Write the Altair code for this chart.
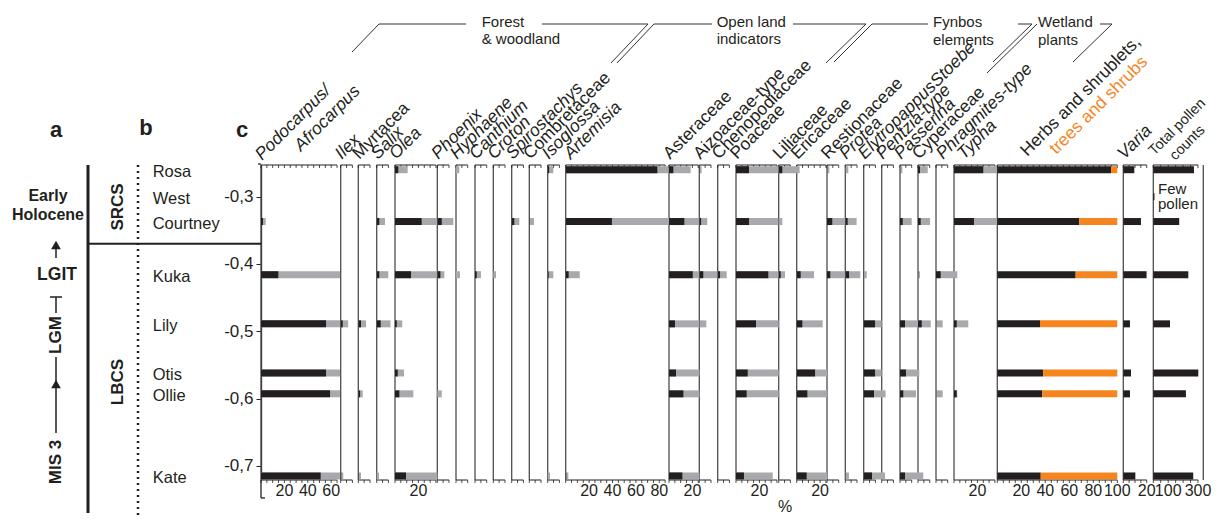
import altair as alt
import pandas as pd

# ---------------- data ----------------
samples = ["Rosa", "West", "Courtney", "Kuka", "Lily", "Otis", "Ollie", "Kate"]
depths = [-0.260, -0.300, -0.337, -0.416, -0.489, -0.562, -0.593, -0.715]

# black = percentage, grey = exaggerated curve (per sample, order as `samples`)
black = {
    "Podocarpus":     [0, 0, 1.7, 14.8, 55.6, 55.6, 59.0, 51.0],
    "Ilex":           [0, 0, 0, 0, 1.7, 0, 0, 0.5],
    "Myrtacea":       [0, 0, 0, 0, 2.3, 0, 1.5, 0.5],
    "Salix":          [0, 0, 2.2, 2.2, 3.4, 0, 0, 0],
    "Olea":           [2.8, 0, 22.8, 13.7, 1.5, 2.3, 3.7, 9.4],
    "Phoenix":        [0, 0, 3.8, 2.6, 0, 0, 0, 0],
    "Hyphaene":       [0, 0, 0, 0, 0, 0, 0, 0],
    "Canthium":       [0, 0, 0, 1.5, 0, 0, 0, 0],
    "Croton":         [0, 0, 0, 0, 0, 0, 0, 0],
    "Spirostachys":   [0, 0, 2.2, 0, 0, 0, 0, 0],
    "Combretaceae":   [0, 0, 0.5, 0, 0, 0, 0, 0],
    "Isoglossa":      [1.2, 0, 0, 0.8, 0, 0, 0, 0],
    "Artemisia":      [78.3, 0, 39.5, 2.5, 0, 0, 0, 0.5],
    "Asteraceae":     [3.7, 0, 13.1, 20.3, 5.1, 6.0, 12.3, 11.4],
    "Aizoaceae":      [0.5, 0, 1.5, 3.4, 0.3, 0, 0, 0],
    "Chenopodiaceae": [0, 0, 0, 2.0, 0, 0, 0, 0],
    "Poaceae":        [11.1, 0, 11.1, 27.6, 17.1, 10.0, 9.1, 6.8],
    "Liliaceae":      [3.1, 0, 0.3, 1.7, 0, 0, 0, 0],
    "Ericaceae":      [0, 0, 0, 3.4, 4.8, 15.7, 9.1, 8.5],
    "Restionaceae":   [0.3, 0, 4.5, 2.8, 0, 0, 0, 0],
    "Protea":         [0.3, 0, 2.0, 3.2, 0, 0, 0, 0.3],
    "Elytropappus":   [0, 0, 0, 0.3, 9.7, 9.7, 8.8, 7.1],
    "Pentzia":        [0, 0, 0, 0, 0, 0, 0, 0],
    "Passerina":      [0.3, 0, 2.3, 0, 4.3, 5.1, 2.8, 4.3],
    "Cyperaceae":     [1.7, 0, 2.3, 0.3, 3.2, 0, 0, 0],
    "Phragmites":     [0, 0, 0, 4.0, 0.3, 0, 0.3, 0],
    "Typha":          [25.0, 0, 17.1, 0, 2.3, 0, 2.3, 0],
}
grey = {
    "Podocarpus":     [0, 0, 4.0, 67.5, 67.5, 67.5, 67.5, 67.5],
    "Ilex":           [0, 0, 0, 0, 6.4, 0, 0, 2.2],
    "Myrtacea":       [0, 0, 0, 0, 6.6, 0, 3.8, 2.3],
    "Salix":          [0, 0, 7.1, 9.9, 11.8, 0, 0, 2.0],
    "Olea":           [10.8, 0, 36.2, 36.2, 6.2, 7.7, 15.7, 36.2],
    "Phoenix":        [0, 0, 13.7, 6.0, 0, 0, 3.8, 0],
    "Hyphaene":       [2.8, 0, 0, 3.4, 0, 0, 0, 0],
    "Canthium":       [0, 0, 0, 5.1, 0, 0, 0, 0],
    "Croton":         [0, 0, 0, 2.3, 0, 0, 0, 0],
    "Spirostachys":   [0, 0, 6.5, 0, 0, 0, 0, 0],
    "Combretaceae":   [0, 0, 4.0, 0, 0, 0, 0, 0],
    "Isoglossa":      [4.8, 0, 0, 4.8, 0, 0, 0, 2.0],
    "Artemisia":      [87.7, 0, 88.3, 12.0, 0, 0, 0, 2.3],
    "Asteraceae":     [18.5, 0, 26.0, 26.0, 26.0, 26.0, 26.0, 26.0],
    "Aizoaceae":      [2.0, 0, 6.8, 15.7, 6.0, 0, 0, 0],
    "Chenopodiaceae": [0, 0, 0, 7.7, 0, 0, 0, 0],
    "Poaceae":        [36.5, 0, 36.5, 36.5, 36.5, 36.5, 36.5, 31.4],
    "Liliaceae":      [17.9, 0, 3.1, 5.4, 0, 0, 0, 0],
    "Ericaceae":      [0, 0, 0, 14.8, 22.2, 25.9, 25.9, 25.9],
    "Restionaceae":   [2.0, 0, 15.6, 15.6, 0, 0, 0, 0],
    "Protea":         [2.6, 0, 9.7, 12.8, 0, 0, 0, 3.1],
    "Elytropappus":   [0, 0, 0, 2.6, 15.4, 15.4, 18.7, 18.3],
    "Pentzia":        [0, 0, 0, 0, 0, 0, 0, 0],
    "Passerina":      [2.0, 0, 10.0, 0, 15.7, 16.5, 13.7, 19.9],
    "Cyperaceae":     [8.3, 0, 10.3, 1.7, 10.9, 0, 0, 0],
    "Phragmites":     [0, 0, 0, 18.2, 5.7, 0, 5.7, 0],
    "Typha":          [36.8, 0, 36.8, 0, 12.2, 0, 2.8, 0],
}
herbs_shrublets = [94.8, 0, 68.3, 65.3, 35.6, 38.3, 37.5, 36.2]
trees_shrubs = [5.2, 0, 31.7, 34.7, 64.4, 61.7, 62.5, 63.8]
varia = [9.4, 0, 15.1, 19.9, 5.7, 6.6, 5.7, 10.3]
pollen_counts = [273, 8, 174, 235, 112, 302, 219, 268]

# taxon labels: (panel key, text, italic)
taxon_labels = [
    ("Ilex", "Ilex", True), ("Myrtacea", "Myrtacea", False), ("Salix", "Salix", True),
    ("Olea", "Olea", True), ("Phoenix", "Phoenix", True), ("Hyphaene", "Hyphaene", True),
    ("Canthium", "Canthium", True), ("Croton", "Croton", True),
    ("Spirostachys", "Spirostachys", True), ("Combretaceae", "Combretaceae", False),
    ("Isoglossa", "Isoglossa", True), ("Artemisia", "Artemisia", True),
    ("Asteraceae", "Asteraceae", False), ("Aizoaceae", "Aizoaceae-type", False),
    ("Chenopodiaceae", "Chenopodiaceae", False), ("Poaceae", "Poaceae", False),
    ("Liliaceae", "Liliaceae", False), ("Ericaceae", "Ericaceae", False),
    ("Restionaceae", "Restionaceae", False), ("Protea", "Protea", True),
    ("Elytropappus", "ElytropappusStoebe", True), ("Pentzia", "Pentzia-type", True),
    ("Passerina", "Passerina", True), ("Cyperaceae", "Cyperaceae", False),
    ("Phragmites", "Phragmites-type", True), ("Typha", "Typha", True),
    ("Varia", "Varia", True),
]

# ---------------- layout (pixels of the plot area) ----------------
PCT = 1.17  # px per percent
# key, panel width px, px per unit, axis max, tick step, labelled ticks
layout = [
    ("Podocarpus", 79.7, PCT, 65, 5, [20, 40, 60]),
    ("Ilex", 17.6, PCT, 10, 5, []),
    ("Myrtacea", 18.4, PCT, 10, 5, []),
    ("Salix", 18.3, PCT, 10, 5, []),
    ("Olea", 42.3, PCT, 35, 5, [20]),
    ("Phoenix", 18.7, PCT, 10, 5, []),
    ("Hyphaene", 19.0, PCT, 10, 5, []),
    ("Canthium", 18.3, PCT, 10, 5, []),
    ("Croton", 18.4, PCT, 10, 5, []),
    ("Spirostachys", 17.6, PCT, 10, 5, []),
    ("Combretaceae", 18.4, PCT, 10, 5, []),
    ("Isoglossa", 18.0, PCT, 10, 5, []),
    ("Artemisia", 103.3, PCT, 85, 5, [20, 40, 60, 80]),
    ("Asteraceae", 30.3, PCT, 25, 5, [20]),
    ("Aizoaceae", 18.4, PCT, 10, 5, []),
    ("Chenopodiaceae", 18.3, PCT, 10, 5, []),
    ("Poaceae", 42.7, PCT, 35, 5, [20]),
    ("Liliaceae", 18.0, PCT, 10, 5, []),
    ("Ericaceae", 30.3, PCT, 25, 5, [20]),
    ("Restionaceae", 18.3, PCT, 10, 5, []),
    ("Protea", 18.4, PCT, 10, 5, []),
    ("Elytropappus", 18.0, PCT, 10, 5, []),
    ("Pentzia", 18.3, PCT, 10, 5, []),
    ("Passerina", 18.0, PCT, 10, 5, []),
    ("Cyperaceae", 18.0, PCT, 10, 5, []),
    ("Phragmites", 18.0, PCT, 10, 5, []),
    ("Typha", 43.3, PCT, 35, 5, [20]),
    ("Herbs", 126.0, 1.2, 100, 5, [20, 40, 60, 80, 100]),
    ("Varia", 30.0, PCT, 20, 5, [20]),
    ("Counts", 50.0, 0.149, 300, 50, [100, 300]),
]
label_dx = {"Artemisia": 4, "Phragmites": 6, "Typha": 9}

W, H = 942, 315
FONT = "Liberation Sans"
INK = "#231f20"
GREYC = "#a7a9ac"
ORANGE = "#f5861f"
LINEC = "#4d4d4d"
LABEL_FS = 17.5

lefts, acc = {}, 0.0
for p in layout:
    lefts[p[0]] = acc
    acc += p[1]
right_end = acc

# ---------------- build tables ----------------
bars = []
for key, w, k, amax, step, labs in layout:
    left = lefts[key]
    if key in black:
        for s, d, b, g in zip(samples, depths, black[key], grey[key]):
            if g > 0:
                bars.append(dict(sample=s, depth=d, x0=left, x1=left + g * k, kind="grey"))
            if b > 0:
                bars.append(dict(sample=s, depth=d, x0=left, x1=left + b * k, kind="black"))
    elif key == "Herbs":
        for s, d, h, t in zip(samples, depths, herbs_shrublets, trees_shrubs):
            if h > 0:
                bars.append(dict(sample=s, depth=d, x0=left, x1=left + h * k, kind="black"))
            if t > 0:
                bars.append(dict(sample=s, depth=d, x0=left + h * k, x1=left + (h + t) * k, kind="orange"))
    elif key == "Varia":
        for s, d, v in zip(samples, depths, varia):
            if v > 0:
                bars.append(dict(sample=s, depth=d, x0=left, x1=left + v * k, kind="black"))
    elif key == "Counts":
        for s, d, v in zip(samples, depths, pollen_counts):
            if v > 0:
                bars.append(dict(sample=s, depth=d, x0=left, x1=left + v * k, kind="black"))
bars_df = pd.DataFrame(bars)

panel_lines = pd.DataFrame({"x": [lefts[p[0]] for p in layout] + [right_end]})
axis_lines = pd.DataFrame([dict(x0=lefts[p[0]], x1=lefts[p[0]] + p[3] * p[2]) for p in layout])
ticks = []
tick_labels = []
for key, w, k, amax, step, labs in layout:
    v = 0
    while v <= amax + 1e-9:
        ticks.append(dict(x=lefts[key] + v * k))
        v += step
    for lv in labs:
        tick_labels.append(dict(x=lefts[key] + lv * k, t=str(lv)))
ticks_df = pd.DataFrame(ticks)
tick_labels_df = pd.DataFrame(tick_labels)

lab_rows = []
for key, text, it in taxon_labels:
    lab_rows.append(dict(x=lefts[key] + 1 + label_dx.get(key, 0), y=-5, t=text, it=it))
lab_rows += [
    dict(x=1, y=-4, t="Podocarpus/", it=True),
    dict(x=40, y=-13, t="Afrocarpus", it=True),
    dict(x=lefts["Herbs"] + 30, y=-8, t="Herbs and shrublets,", it=False),
]
labels_df = pd.DataFrame(lab_rows)
orange_label_df = pd.DataFrame([dict(x=lefts["Herbs"] + 59, y=-10, t="trees and shrubs")])
counts_label_df = pd.DataFrame([
    dict(x=lefts["Counts"] + 1, y=-9, t="Total pollen"),
    dict(x=lefts["Counts"] + 22, y=-4, t="counts"),
])

xscale = alt.Scale(domain=[0, W], nice=False, zero=False)
yscale = alt.Scale(domain=[-0.721, -0.253], nice=False, zero=False)
yaxis = alt.Axis(values=[-0.3, -0.4, -0.5, -0.6, -0.7], title=None, grid=False,
                 labelExpr="'-0,' + round(-datum.value*10)", labelFont=FONT,
                 labelFontSize=17, labelColor=INK, domainColor=INK, domainWidth=1.3,
                 tickColor=INK, tickSize=5, labelPadding=3)

X = lambda f: alt.X(f, scale=xscale, axis=None)
PY = lambda f: alt.Y(f, scale=None, axis=None)

layers = []

# panel separators
layers.append(alt.Chart(panel_lines).mark_rule(color=LINEC, strokeWidth=1.3).encode(
    x=X("x:Q"), y=alt.value(0), y2=alt.value(H)))
# top and bottom axes of each panel
layers.append(alt.Chart(axis_lines).mark_rule(color=INK, strokeWidth=1).encode(
    x=X("x0:Q"), x2="x1:Q", y=alt.value(0)))
layers.append(alt.Chart(axis_lines).mark_rule(color=INK, strokeWidth=1).encode(
    x=X("x0:Q"), x2="x1:Q", y=alt.value(H)))
layers.append(alt.Chart(ticks_df).mark_rule(color=INK, strokeWidth=0.8).encode(
    x=X("x:Q"), y=alt.value(0), y2=alt.value(3)))
layers.append(alt.Chart(ticks_df).mark_rule(color=INK, strokeWidth=0.8).encode(
    x=X("x:Q"), y=alt.value(H), y2=alt.value(H + 3)))

# bars
for kind, col in [("grey", GREYC), ("black", INK), ("orange", ORANGE)]:
    layers.append(alt.Chart(bars_df[bars_df.kind == kind]).mark_rule(
        color=col, strokeWidth=7).encode(
        x=X("x0:Q"), x2="x1:Q",
        y=alt.Y("depth:Q", scale=yscale, axis=yaxis)))

# sample names
samp_df = pd.DataFrame({"sample": samples, "depth": depths, "x": [-108.3] * len(samples)})
layers.append(alt.Chart(samp_df).mark_text(align="left", baseline="middle", dy=2,
                                           font=FONT, fontSize=16.5, color=INK).encode(
    x=X("x:Q"), y=alt.Y("depth:Q", scale=yscale, axis=yaxis), text="sample:N"))

# bottom tick labels
layers.append(alt.Chart(tick_labels_df).mark_text(align="center", baseline="middle",
                                                  font=FONT, fontSize=16, color=INK).encode(
    x=X("x:Q"), y=alt.value(H + 11), text="t:N"))

# rotated taxon labels
for it in (True, False):
    layers.append(alt.Chart(labels_df[labels_df.it == it]).mark_text(
        align="left", baseline="alphabetic", angle=315, font=FONT, fontSize=LABEL_FS,
        fontStyle="italic" if it else "normal", color=INK).encode(
        x=X("x:Q"), y=PY("y:Q"), text="t:N"))
layers.append(alt.Chart(orange_label_df).mark_text(
    align="left", baseline="alphabetic", angle=315, font=FONT, fontSize=LABEL_FS,
    color=ORANGE).encode(x=X("x:Q"), y=PY("y:Q"), text="t:N"))
layers.append(alt.Chart(counts_label_df).mark_text(
    align="left", baseline="alphabetic", angle=315, font=FONT, fontSize=14.5,
    color=INK).encode(x=X("x:Q"), y=PY("y:Q"), text="t:N"))

# group headings (page px -> plot px: -261, -165)
ox, oy = 261, 165
groups_df = pd.DataFrame([
    dict(x=481.7 - ox, y=22 - oy, t="Forest"), dict(x=481.7 - ox, y=39 - oy, t="& woodland"),
    dict(x=716.7 - ox, y=22 - oy, t="Open land"), dict(x=716.7 - ox, y=39 - oy, t="indicators"),
    dict(x=933 - ox, y=22 - oy, t="Fynbos"), dict(x=933 - ox, y=40 - oy, t="elements"),
    dict(x=1038 - ox, y=22 - oy, t="Wetland"), dict(x=1038 - ox, y=40 - oy, t="plants"),
    dict(x=1158 - ox, y=189 - oy, t="Few"), dict(x=1158 - ox, y=204 - oy, t="pollen"),
])
layers.append(alt.Chart(groups_df).mark_text(align="left", baseline="middle", font=FONT,
                                             fontSize=15, color=INK).encode(
    x=X("x:Q"), y=PY("y:Q"), text="t:N"))

segs = [
    (352, 52, 379, 24), (379, 24, 466, 24), (542, 24, 648, 24), (648, 24, 611, 63),
    (617, 63, 654, 24), (654, 24, 712, 24), (793, 24, 866, 24), (866, 24, 826, 63),
    (834, 62, 872, 24), (872, 24, 928, 24),
    (1018, 24, 1032, 24), (1032, 24, 993, 62), (987, 73, 1037, 24),
    (1100, 24, 1112, 24), (1112, 24, 1073, 62),
]
segs_df = pd.DataFrame([dict(x=a - ox, y=b - oy, x2=c - ox, y2=d - oy) for a, b, c, d in segs])
layers.append(alt.Chart(segs_df).mark_rule(color="#333333", strokeWidth=1).encode(
    x=X("x:Q"), y=PY("y:Q"), x2="x2:Q", y2="y2:Q"))

# left-hand stratigraphy
left_lines = pd.DataFrame([
    dict(x=88 - ox, y=165 - oy, x2=88 - ox, y2=513 - oy, w=3),
    dict(x=56 - ox, y=244 - oy, x2=56 - ox, y2=258 - oy, w=1.5),
    dict(x=50 - ox, y=297 - oy, x2=62 - ox, y2=297 - oy, w=1.5),
    dict(x=56 - ox, y=297 - oy, x2=56 - ox, y2=313 - oy, w=1.5),
    dict(x=56 - ox, y=357 - oy, x2=56 - ox, y2=433 - oy, w=1.5),
    dict(x=0, y=H, x2=0, y2=333, w=1.3),
    dict(x=0, y=333, x2=4, y2=333, w=1.3),
    dict(x=-3, y=-1, x2=0, y2=-1, w=1.3),
])
layers.append(alt.Chart(left_lines).mark_rule(color=INK).encode(
    x=X("x:Q"), y=PY("y:Q"), x2="x2:Q", y2="y2:Q",
    strokeWidth=alt.StrokeWidth("w:Q", scale=None)))
bound_df = pd.DataFrame([dict(x=88 - ox, x2=0, depth=-0.370)])
layers.append(alt.Chart(bound_df).mark_rule(color=INK, strokeWidth=2).encode(
    x=X("x:Q"), x2="x2:Q", y=alt.Y("depth:Q", scale=yscale, axis=yaxis)))
dot_df = pd.DataFrame([dict(x=138 - ox, y=165 - oy, y2=520 - oy)])
layers.append(alt.Chart(dot_df).mark_rule(color=INK, strokeWidth=2.5, strokeDash=[2, 4]).encode(
    x=X("x:Q"), y=PY("y:Q"), y2="y2:Q"))
arrows_df = pd.DataFrame([dict(x=56 - ox, y=245 - oy), dict(x=56 - ox, y=384 - oy)])
layers.append(alt.Chart(arrows_df).mark_point(shape="triangle-up", filled=True, size=95,
                                              color=INK, opacity=1).encode(
    x=X("x:Q"), y=PY("y:Q")))

bold_df = pd.DataFrame([
    dict(x=56 - ox, y=130 - oy, t="a", s=22), dict(x=146 - ox, y=128 - oy, t="b", s=22),
    dict(x=242 - ox, y=130 - oy, t="c", s=22),
    dict(x=48 - ox, y=196 - oy, t="Early", s=16), dict(x=48 - ox, y=215 - oy, t="Holocene", s=16),
    dict(x=57 - ox, y=275 - oy, t="LGIT", s=17.5),
])
layers.append(alt.Chart(bold_df).mark_text(align="center", baseline="middle", font=FONT,
                                           fontWeight="bold", color=INK).encode(
    x=X("x:Q"), y=PY("y:Q"), text="t:N", size=alt.Size("s:Q", scale=None)))
rot_df = pd.DataFrame([
    dict(x=56 - ox, y=335 - oy, t="LGM"), dict(x=56 - ox, y=462 - oy, t="MIS 3"),
    dict(x=118 - ox, y=207 - oy, t="SRCS"), dict(x=118 - ox, y=382 - oy, t="LBCS"),
])
layers.append(alt.Chart(rot_df).mark_text(align="center", baseline="middle", angle=270,
                                          font=FONT, fontWeight="bold", fontSize=17,
                                          color=INK).encode(
    x=X("x:Q"), y=PY("y:Q"), text="t:N"))
pct_df = pd.DataFrame([dict(x=785 - ox, y=507 - oy, t="%")])
layers.append(alt.Chart(pct_df).mark_text(align="center", baseline="middle", font=FONT,
                                          fontSize=16, color=INK).encode(
    x=X("x:Q"), y=PY("y:Q"), text="t:N"))

chart = alt.layer(*layers).properties(
    width=W, height=H,
    autosize=alt.AutoSizeParams(type="none"),
    padding={"left": 253, "top": 157, "right": 9, "bottom": 36},
    background="white",
).configure_view(stroke=None)

chart.save("out.html", embed_options={"renderer": "svg", "actions": False})
